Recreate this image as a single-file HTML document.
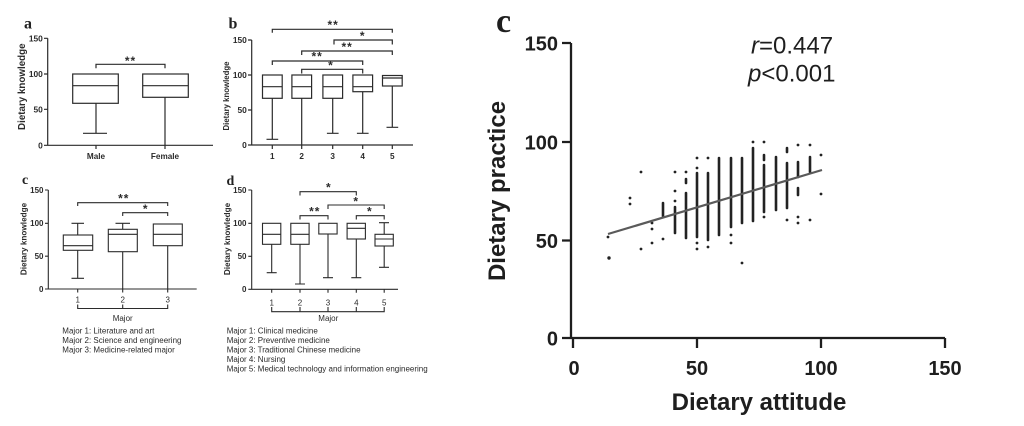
<!DOCTYPE html>
<html><head><meta charset="utf-8"><style>
html,body{margin:0;padding:0;background:#fff;}
svg{display:block;}
.t{font-family:"Liberation Sans",Arial,sans-serif;}
</style></head><body>
<svg width="1024" height="426" viewBox="0 0 1024 426" xmlns="http://www.w3.org/2000/svg" class="t">
<rect width="1024" height="426" fill="#fff"/>

<!-- ============ Panel a ============ -->
<g stroke="#2b2b2b" stroke-width="1.2" fill="none">
  <path d="M47.7,38.3 V145.3 M44,38.3 H47.7 M44,74 H47.7 M44,109.3 H47.7 M44,145.3 H213 M96,145.3 V149 M165,145.3 V149"/>
  <rect x="72.7" y="74" width="45.6" height="29.3"/>
  <path d="M72.7,85.7 H118.3 M96,103.3 V133.3 M83,133.3 H107"/>
  <rect x="142.7" y="74" width="45.6" height="23.3"/>
  <path d="M142.7,85.7 H188.3 M165,97.3 V145.3"/>
  <path d="M96,68.3 V64.3 H165 V68.3"/>
</g>
<g font-size="8.4" font-weight="bold" fill="#2b2b2b" text-anchor="end">
  <text x="42.8" y="41.3">150</text><text x="42.8" y="77">100</text><text x="42.8" y="112.3">50</text><text x="42.8" y="148.3">0</text>
</g>
<g font-size="8.2" font-weight="bold" fill="#2b2b2b" text-anchor="middle">
  <text x="96" y="159">Male</text><text x="165" y="159">Female</text>
</g>
<text transform="translate(25,86.7) rotate(-90)" font-size="9.8" font-weight="bold" fill="#2b2b2b" text-anchor="middle">Dietary knowledge</text>
<text x="130.5" y="65" font-size="12" font-weight="bold" fill="#2b2b2b" text-anchor="middle" letter-spacing="1">**</text>
<text x="24" y="28.3" font-family="Liberation Serif,serif" font-size="16" font-weight="bold" fill="#222">a</text>

<!-- ============ Panel b ============ -->
<g stroke="#2b2b2b" stroke-width="1.2" fill="none">
  <path d="M251.7,40 V145 M248,40 H251.7 M248,75 H251.7 M248,110 H251.7 M248,145 H413 M272.3,145 V149 M301.7,145 V149 M332.7,145 V149 M362.7,145 V149 M392.3,145 V149"/>
  <rect x="262.5" y="75" width="19.7" height="23.3"/><path d="M262.5,86.7 H282.2 M272.3,98.3 V139.3 M266.5,139.3 H278.2"/>
  <rect x="291.9" y="75" width="19.7" height="23.3"/><path d="M291.9,86.7 H311.6 M301.7,98.3 V145"/>
  <rect x="322.9" y="75" width="19.7" height="23.3"/><path d="M322.9,86.7 H342.6 M332.7,98.3 V133.3 M326.9,133.3 H338.6"/>
  <rect x="352.9" y="75" width="19.7" height="16.7"/><path d="M352.9,86.7 H372.6 M362.7,91.7 V133.3 M356.9,133.3 H368.6"/>
  <rect x="382.5" y="75.5" width="19.7" height="10.5"/><path d="M382.5,78 H402.2 M392.3,86 V127.3 M386.5,127.3 H398.2"/>
  <path d="M272.3,32.7 V29.3 H392.3 V32.7"/>
  <path d="M334,44.5 V40 H392.3 V44.5"/>
  <path d="M301.7,55 V51 H392.3 V55"/>
  <path d="M272.3,65 V61 H362.7 V65"/>
  <path d="M301.7,73.5 V69.3 H362.7 V73.5"/>
</g>
<g font-size="8.4" font-weight="bold" fill="#2b2b2b" text-anchor="end">
  <text x="246.8" y="43">150</text><text x="246.8" y="78">100</text><text x="246.8" y="113">50</text><text x="246.8" y="148">0</text>
</g>
<g font-size="8.2" font-weight="bold" fill="#2b2b2b" text-anchor="middle">
  <text x="272.3" y="159">1</text><text x="301.7" y="159">2</text><text x="332.7" y="159">3</text><text x="362.7" y="159">4</text><text x="392.3" y="159">5</text>
</g>
<text transform="translate(229,96) rotate(-90)" font-size="7.8" font-weight="bold" fill="#2b2b2b" text-anchor="middle">Dietary knowledge</text>
<g font-size="12" font-weight="bold" fill="#2b2b2b" text-anchor="middle" letter-spacing="1">
  <text x="333.2" y="29">**</text>
  <text x="362.7" y="40">*</text>
  <text x="347.2" y="51">**</text>
  <text x="317.2" y="60.5">**</text>
  <text x="331" y="69.5">*</text>
</g>
<text x="228.5" y="28.3" font-family="Liberation Serif,serif" font-size="16" font-weight="bold" fill="#222">b</text>

<!-- ============ Panel c (left) ============ -->
<g stroke="#2b2b2b" stroke-width="1.1" fill="none">
  <path d="M48.3,190 V289 M45,190 H48.3 M45,223.3 H48.3 M45,256.2 H48.3 M45,289 H196.7 M77.7,289 V292.5 M122.7,289 V292.5 M167.7,289 V292.5"/>
  <rect x="63.3" y="235" width="29.4" height="15.3"/><path d="M63.3,245.7 H92.7 M77.7,235 V223.3 M71.5,223.3 H84 M77.7,250.3 V278.3 M71.5,278.3 H84"/>
  <rect x="108.3" y="229.3" width="29" height="22.4"/><path d="M108.3,234.3 H137.3 M122.7,229.3 V223.3 M115.5,223.3 H130 M122.7,251.7 V289"/>
  <rect x="153.3" y="224" width="29" height="21.7"/><path d="M153.3,234.3 H182.3 M167.7,245.7 V289"/>
  <path d="M77.7,206 V202.7 H167.7 V206"/>
  <path d="M122.7,216 V212.7 H167.7 V216"/>
  <path d="M77.7,304.5 V308.5 H167.7 V304.5 M122.7,304.5 V308.5"/>
</g>
<g font-size="8" font-weight="bold" fill="#2b2b2b" text-anchor="end">
  <text x="43.5" y="192.8">150</text><text x="43.5" y="226.1">100</text><text x="43.5" y="259">50</text><text x="43.5" y="291.8">0</text>
</g>
<g font-size="8" fill="#2b2b2b" text-anchor="middle">
  <text x="77.7" y="302.3">1</text><text x="122.7" y="302.3">2</text><text x="167.7" y="302.3">3</text>
  <text x="122.7" y="321">Major</text>
</g>
<text transform="translate(26.5,239) rotate(-90)" font-size="8.2" font-weight="bold" fill="#2b2b2b" text-anchor="middle">Dietary knowledge</text>
<g font-size="12" font-weight="bold" fill="#2b2b2b" text-anchor="middle" letter-spacing="1">
  <text x="123.8" y="202.5">**</text>
  <text x="145.7" y="213">*</text>
</g>
<text x="22" y="184" font-family="Liberation Serif,serif" font-size="14" font-weight="bold" fill="#222">c</text>
<g font-size="8" fill="#2b2b2b">
  <text x="62.3" y="333.4">Major 1: Literature and art</text>
  <text x="62.3" y="343">Major 2: Science and engineering</text>
  <text x="62.3" y="352.4">Major 3: Medicine-related major</text>
</g>

<!-- ============ Panel d ============ -->
<g stroke="#2b2b2b" stroke-width="1.1" fill="none">
  <path d="M251.7,190 V289.3 M248.3,190 H251.7 M248.3,223.3 H251.7 M248.3,256.3 H251.7 M248.3,289.3 H398 M271.7,289.3 V292.8 M300,289.3 V292.8 M328,289.3 V292.8 M356.3,289.3 V292.8 M384.2,289.3 V292.8"/>
  <rect x="262.5" y="223.3" width="18.3" height="21"/><path d="M262.5,234.3 H280.8 M271.7,244.3 V272.7 M266.7,272.7 H276.7"/>
  <rect x="290.8" y="223.3" width="18.3" height="21"/><path d="M290.8,234.3 H309.1 M300,244.3 V284 M295,284 H305"/>
  <rect x="318.8" y="223.3" width="18.3" height="10.7"/><path d="M328,234 V277.7 M323,277.7 H333"/>
  <rect x="347.1" y="223.3" width="18.3" height="15.7"/><path d="M347.1,228.3 H365.4 M356.3,239 V277.7 M351.3,277.7 H361.3"/>
  <rect x="375" y="234.3" width="18.3" height="11.7"/><path d="M375,239 H393.3 M384.2,234.3 V222.7 M379,222.7 H389 M384.2,246 V267.3 M379,267.3 H389"/>
  <path d="M300,195.5 V191.7 H356.3 V195.5"/>
  <path d="M328,209 V205 H384.2 V209"/>
  <path d="M300,219.5 V215.7 H328 V219.5"/>
  <path d="M356.3,219.5 V215.7 H384.2 V219.5"/>
  <path d="M271.7,307 V311.7 H384.2 V307 M300,307 V311.7 M328,307 V311.7 M356.3,307 V311.7"/>
</g>
<g font-size="8" font-weight="bold" fill="#2b2b2b" text-anchor="end">
  <text x="246.5" y="192.8">150</text><text x="246.5" y="226.1">100</text><text x="246.5" y="259.1">50</text><text x="246.5" y="292.1">0</text>
</g>
<g font-size="8" fill="#2b2b2b" text-anchor="middle">
  <text x="271.7" y="305.3">1</text><text x="300" y="305.3">2</text><text x="328" y="305.3">3</text><text x="356.3" y="305.3">4</text><text x="384.2" y="305.3">5</text>
  <text x="328.3" y="321">Major</text>
</g>
<text transform="translate(229.8,239) rotate(-90)" font-size="8.2" font-weight="bold" fill="#2b2b2b" text-anchor="middle">Dietary knowledge</text>
<g font-size="12" font-weight="bold" fill="#2b2b2b" text-anchor="middle" letter-spacing="1">
  <text x="328.8" y="191.5">*</text>
  <text x="356.2" y="205.5">*</text>
  <text x="314.8" y="215.5">**</text>
  <text x="369.8" y="215.5">*</text>
</g>
<text x="226.5" y="185" font-family="Liberation Serif,serif" font-size="14" font-weight="bold" fill="#222">d</text>
<g font-size="8" fill="#2b2b2b">
  <text x="226.7" y="333.4">Major 1: Clinical medicine</text>
  <text x="226.7" y="343.2">Major 2: Preventive medicine</text>
  <text x="226.7" y="352.6">Major 3: Traditional Chinese medicine</text>
  <text x="226.7" y="362">Major 4: Nursing</text>
  <text x="226.7" y="371.6">Major 5: Medical technology and information engineering</text>
</g>

<!-- ============ Right panel c ============ -->
<g stroke="#1e1e1e" stroke-width="2.3" fill="none">
  <path d="M571,43 V338 M562,43 H571 M562,142 H571 M562,240.5 H571 M562,338 H945 M573,338 V348 M697,338 V348 M821,338 V348 M945,338 V348"/>
</g>
<g font-size="20" font-weight="bold" fill="#1e1e1e" text-anchor="end">
  <text x="558" y="50.5">150</text><text x="558" y="149.5">100</text><text x="558" y="248">50</text><text x="558" y="345.5">0</text>
</g>
<g font-size="20" font-weight="bold" fill="#1e1e1e" text-anchor="middle">
  <text x="574" y="375">0</text><text x="697" y="375">50</text><text x="821" y="375">100</text><text x="945" y="375">150</text>
</g>
<text x="759" y="410" font-size="24" font-weight="bold" fill="#1e1e1e" text-anchor="middle">Dietary attitude</text>
<text transform="translate(505,191) rotate(-90)" font-size="24" font-weight="bold" fill="#1e1e1e" text-anchor="middle">Dietary practice</text>
<text x="496" y="32" font-family="Liberation Serif,serif" font-size="34" font-weight="bold" fill="#1e1e1e">c</text>
<g font-size="24" fill="#1e1e1e">
  <text x="751" y="53.5"><tspan font-style="italic">r</tspan>=0.447</text>
  <text x="748" y="81.7"><tspan font-style="italic">p</tspan>&lt;0.001</text>
</g>

<!-- scatter stripes -->
<g stroke="#222" stroke-width="2.6" stroke-linecap="round" fill="none">
  <path d="M663,203 V216 M675,207 V233 M686,179 V183 M686,193 V238 M697,173 V237 M708,173 V240 M719,158 V235 M731,158 V227 M742,158 V223 M753,148 V221 M764,155 V160 M764,165 V212 M776,157 V210 M787,148 V152 M787,163 V208 M798,162 V177 M798,188 V195 M810,157 V172"/>
</g>
<g fill="#222">
  <circle cx="608" cy="237" r="1.4"/><circle cx="609" cy="258" r="1.7"/>
  <circle cx="630" cy="198" r="1.4"/><circle cx="630" cy="204" r="1.4"/>
  <circle cx="641" cy="172" r="1.4"/><circle cx="641" cy="249" r="1.4"/>
  <circle cx="652" cy="223" r="1.4"/><circle cx="652" cy="229" r="1.4"/><circle cx="652" cy="243" r="1.4"/>
  <circle cx="663" cy="239" r="1.4"/>
  <circle cx="675" cy="172" r="1.4"/><circle cx="675" cy="191" r="1.4"/><circle cx="675" cy="201" r="1.4"/>
  <circle cx="686" cy="172" r="1.4"/>
  <circle cx="697" cy="158" r="1.4"/><circle cx="697" cy="168" r="1.4"/><circle cx="697" cy="243" r="1.4"/><circle cx="697" cy="249" r="1.4"/>
  <circle cx="708" cy="158" r="1.4"/><circle cx="708" cy="247" r="1.4"/>
  <circle cx="731" cy="235" r="1.4"/><circle cx="731" cy="243" r="1.4"/>
  <circle cx="742" cy="263" r="1.4"/>
  <circle cx="753" cy="142" r="1.4"/>
  <circle cx="764" cy="142" r="1.4"/><circle cx="764" cy="217" r="1.4"/>
  <circle cx="787" cy="220" r="1.4"/>
  <circle cx="798" cy="145" r="1.4"/><circle cx="798" cy="217" r="1.4"/><circle cx="798" cy="223" r="1.4"/>
  <circle cx="810" cy="145" r="1.4"/><circle cx="810" cy="220" r="1.4"/>
  <circle cx="821" cy="155" r="1.4"/><circle cx="821" cy="194" r="1.4"/>
</g>
<line x1="608" y1="234" x2="822" y2="170" stroke="#5a5a5a" stroke-width="2.2"/>
</svg>
</body></html>
